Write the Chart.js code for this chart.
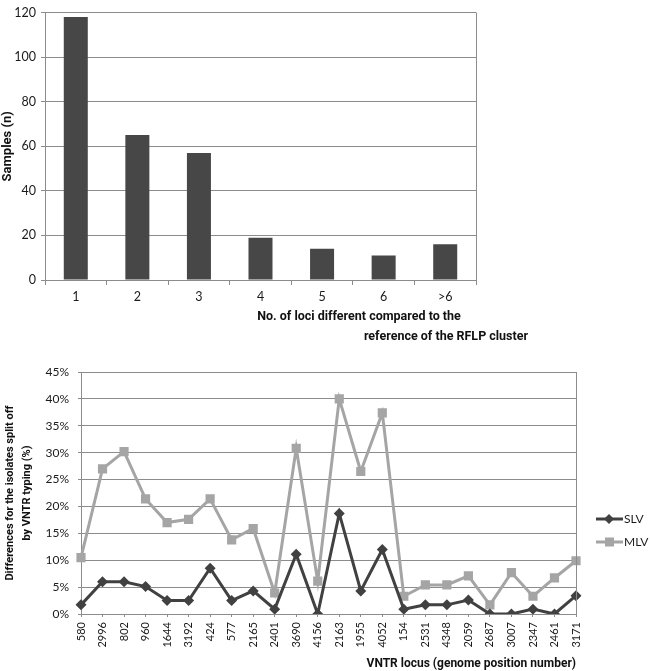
<!DOCTYPE html>
<html>
<head>
<meta charset="utf-8">
<script src="https://cdn.jsdelivr.net/npm/chart.js@4.4.1/dist/chart.umd.min.js"></script>
<style>
  html, body { margin: 0; padding: 0; background: #fff; }
  body { width: 650px; height: 671px; position: relative; overflow: hidden; }
  .box { position: absolute; left: 0; width: 650px; }
  #topBox { top: 0; height: 350px; }
  #botBox { top: 340px; height: 331px; }
</style>
</head>
<body>
<div class="box" id="topBox"><canvas id="lociChart"></canvas></div>
<div class="box" id="botBox"><canvas id="vntrChart"></canvas></div>
<script>
// Chart data
const lociLabels = ['1', '2', '3', '4', '5', '6', '>6'];
const lociSamples = [118, 65, 57, 19, 14, 11, 16];

const vntrLoci = ['580','2996','802','960','1644','3192','424','577','2165','2401','3690','4156',
                  '2163','1955','4052','154','2531','4348','2059','2687','3007','2347','2461','3171'];
const slvPct = [1.7, 6.0, 6.0, 5.1, 2.5, 2.5, 8.5, 2.5, 4.3, 0.9, 11.1, 0,
                18.7, 4.3, 12.0, 0.9, 1.7, 1.7, 2.6, 0, 0, 0.9, 0, 3.4];
const mlvPct = [10.5, 27.0, 30.2, 21.4, 17.0, 17.6, 21.4, 13.8, 15.9, 3.9, 30.8, 6.1,
                40.0, 26.5, 37.4, 3.3, 5.4, 5.4, 7.1, 1.7, 7.7, 3.3, 6.7, 9.9];

const FONT = 'Lato, "Open Sans", sans-serif';
const BOLD = 'Roboto, "Open Sans", sans-serif';
const gridGrey = '#8c8c8c';
const slvColor = '#414141';
const mlvColor = '#a5a5a5';

Chart.defaults.font.family = FONT;
Chart.defaults.color = '#1a1a1a';
Chart.defaults.animation = false;

// right-hand border of the plot area
const rightBorder = {
  id: 'rightBorder',
  afterDraw(chart) {
    const { ctx, chartArea: a } = chart;
    ctx.save();
    ctx.strokeStyle = gridGrey;
    ctx.lineWidth = 1;
    ctx.beginPath();
    ctx.moveTo(Math.round(a.right) + 0.5, a.top);
    ctx.lineTo(Math.round(a.right) + 0.5, a.bottom);
    ctx.stroke();
    ctx.restore();
  }
};

// two-line x title of the upper chart (lines are offset in the original)
const lociTitle = {
  id: 'lociTitle',
  afterDraw(chart) {
    const ctx = chart.ctx;
    ctx.save();
    ctx.font = 'bold 12.5px ' + BOLD;
    ctx.fillStyle = '#111';
    ctx.textAlign = 'center';
    ctx.textBaseline = 'middle';
    ctx.fillText('No. of loci different compared to the', 359, 317);
    ctx.fillText('reference of the RFLP cluster', 446, 337);
    ctx.restore();
  }
};

// legend with line + marker, drawn to the right of the lower chart
const lineLegend = {
  id: 'lineLegend',
  afterDraw(chart) {
    const ctx = chart.ctx;
    ctx.save();
    chart.data.datasets.forEach((ds, i) => {
      const y = 179 + i * 23;
      ctx.strokeStyle = ds.borderColor;
      ctx.lineWidth = 3;
      ctx.beginPath();
      ctx.moveTo(596, y);
      ctx.lineTo(623, y);
      ctx.stroke();
      ctx.fillStyle = ds.borderColor;
      if (ds.pointStyle === 'rect') ctx.fillRect(605, y - 4.5, 9, 9);
      else {
        ctx.beginPath();
        ctx.moveTo(609, y - 5); ctx.lineTo(614, y); ctx.lineTo(609, y + 5); ctx.lineTo(604, y);
        ctx.closePath(); ctx.fill();
      }
      ctx.fillStyle = '#1a1a1a';
      ctx.font = '12px ' + FONT;
      ctx.textAlign = 'left';
      ctx.textBaseline = 'middle';
      ctx.fillText(ds.label, 624, y);
    });
    ctx.restore();
  }
};

// Bar chart (top)
new Chart(document.getElementById('lociChart'), {
  type: 'bar',
  data: {
    labels: lociLabels,
    datasets: [{ data: lociSamples, backgroundColor: '#474747', barPercentage: 0.39, categoryPercentage: 1 }]
  },
  options: {
    responsive: true,
    maintainAspectRatio: false,
    layout: { padding: { top: 7, right: 174, left: 0, bottom: 0 } },
    plugins: { legend: { display: false }, tooltip: { enabled: false } },
    scales: {
      x: {
        afterFit: (s) => { s.height = 70; },
        grid: { offset: true, drawOnChartArea: false, drawTicks: true, tickLength: 5, color: gridGrey },
        border: { color: gridGrey },
        ticks: { font: { size: 12.5 }, color: '#1a1a1a', padding: 4 }
      },
      y: {
        min: 0, max: 120,
        afterFit: (s) => { s.width = 45; },
        ticks: { stepSize: 20, font: { size: 12.5 }, color: '#1a1a1a', padding: 5 },
        grid: { color: gridGrey, tickLength: 4 },
        border: { color: gridGrey },
        title: { display: true, text: 'Samples (n)', font: { family: BOLD, size: 13, weight: 'bold' }, color: '#111', padding: { top: 0, bottom: 0 } }
      }
    }
  },
  plugins: [rightBorder, lociTitle]
});

// Line chart (bottom)
new Chart(document.getElementById('vntrChart'), {
  type: 'line',
  data: {
    labels: vntrLoci,
    datasets: [
      { label: 'SLV', data: slvPct, borderColor: slvColor, backgroundColor: slvColor, borderWidth: 3,
        pointStyle: 'rectRot', pointRadius: 5.5, pointBorderWidth: 0, tension: 0 },
      { label: 'MLV', data: mlvPct, borderColor: mlvColor, backgroundColor: mlvColor, borderWidth: 3,
        pointStyle: 'rect', pointRadius: 6.5, pointBorderWidth: 0, tension: 0 }
    ]
  },
  options: {
    responsive: true,
    maintainAspectRatio: false,
    layout: { padding: { top: 32, right: 74, left: 0, bottom: 0 } },
    plugins: { legend: { display: false }, tooltip: { enabled: false } },
    scales: {
      x: {
        afterFit: (s) => { s.height = 57; },
        grid: { drawOnChartArea: false, drawTicks: true, tickLength: 3, color: gridGrey },
        border: { color: gridGrey },
        ticks: { autoSkip: false, minRotation: 90, maxRotation: 90, font: { size: 11 }, color: '#1a1a1a', padding: 5 },
        title: { display: true, text: 'VNTR locus (genome position number)', align: 'end',
                 font: { family: BOLD, size: 12, weight: 'bold' }, color: '#111', padding: { top: 0, bottom: 0 } }
      },
      y: {
        min: 0, max: 45,
        afterFit: (s) => { s.width = 81; },
        ticks: { stepSize: 5, callback: (v) => v + '%', font: { size: 12 }, color: '#1a1a1a', padding: 9 },
        grid: { color: gridGrey, tickLength: 3 },
        border: { color: gridGrey },
        title: { display: true, text: ['Differences for the isolates split off', 'by VNTR typing (%)'],
                 font: { family: BOLD, size: 11, weight: 'bold', lineHeight: '17px' }, color: '#111', padding: { top: 1.5, bottom: 0 } }
      }
    }
  },
  plugins: [rightBorder, lineLegend]
});
</script>
</body>
</html>
